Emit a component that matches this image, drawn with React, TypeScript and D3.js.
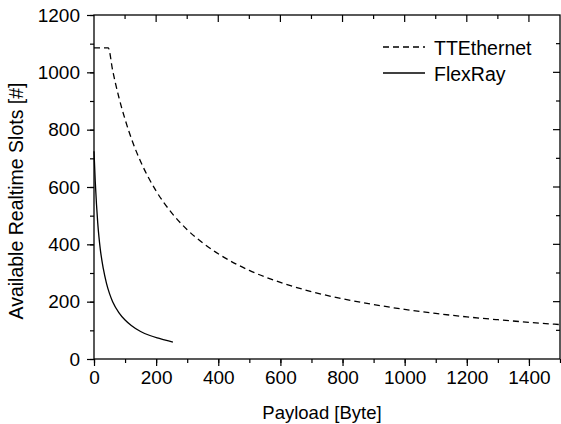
import { useEffect, useRef } from "react";
import * as d3 from "d3";

const WIDTH = 561;
const HEIGHT = 424;
const MARGIN = { top: 15, right: 1, bottom: 65, left: 94 };

// TTEthernet: flat up to the minimum payload, then falls
const ETH_PAYLOAD = [0, 46, 60, 80, 100, 125, 150, 200, 250, 300, 350, 400, 500, 600, 700, 800, 900, 1000, 1100, 1200, 1300, 1400, 1500];
const ETH_SLOTS = [1085, 1085, 1007, 913, 836, 755, 689, 586, 510, 451, 405, 367, 309, 267, 235, 210, 190, 173, 159, 147, 137, 128, 120];

const FR_PAYLOAD = [0, 4, 8, 12, 16, 20, 30, 40, 50, 60, 80, 100, 120, 150, 180, 210, 240, 254];
const FR_SLOTS = [725, 620, 540, 475, 425, 385, 315, 265, 228, 200, 162, 136, 117, 96, 82, 72, 63, 59];

const X_TICKS = [0, 200, 400, 600, 800, 1000, 1200, 1400];
const Y_TICKS = [0, 200, 400, 600, 800, 1000, 1200];

const SERIES = [
  { name: "TTEthernet", dash: "6,4", x: ETH_PAYLOAD, y: ETH_SLOTS },
  { name: "FlexRay", dash: null, x: FR_PAYLOAD, y: FR_SLOTS },
];

const FONT = "'Liberation Sans', Arial, sans-serif";

const App = () => {
  const ref = useRef(null);

  useEffect(() => {
    const svg = d3.select(ref.current);
    svg.selectAll("*").remove();

    const w = WIDTH - MARGIN.left - MARGIN.right;
    const h = HEIGHT - MARGIN.top - MARGIN.bottom;
    const x = d3.scaleLinear().domain([0, 1500]).range([0, w]);
    const y = d3.scaleLinear().domain([0, 1200]).range([h, 0]);

    const g = svg.append("g").attr("transform", `translate(${MARGIN.left},${MARGIN.top})`);

    const xMinor = d3.range(0, 1501, 100);
    const yMinor = d3.range(0, 1201, 100);

    // bottom + left: ticks outward; top + right: ticks inward
    const styleAxis = (sel) => {
      sel.select(".domain").remove();
      sel.selectAll("line").attr("stroke", "#000").attr("stroke-width", 1.2);
      sel.selectAll("text").attr("font-family", FONT).attr("font-size", 19).attr("fill", "#000");
    };

    g.append("g")
      .attr("transform", `translate(0,${h})`)
      .call(d3.axisBottom(x).tickValues(xMinor).tickSize(4).tickFormat(() => ""))
      .call(styleAxis);
    g.append("g")
      .attr("transform", `translate(0,${h})`)
      .call(d3.axisBottom(x).tickValues(X_TICKS).tickSize(7).tickPadding(5).tickFormat(d3.format("d")))
      .call(styleAxis);
    g.append("g")
      .selectAll("line")
      .data(xMinor.filter((v) => v > 0 && v < 1500))
      .join("line")
      .attr("x1", (d) => x(d))
      .attr("x2", (d) => x(d))
      .attr("y1", 0)
      .attr("y2", (d) => (d % 200 === 0 ? 7 : 4))
      .attr("stroke", "#000")
      .attr("stroke-width", 1.2);

    g.append("g")
      .call(d3.axisLeft(y).tickValues(yMinor).tickSize(4).tickFormat(() => ""))
      .call(styleAxis);
    g.append("g")
      .call(d3.axisLeft(y).tickValues(Y_TICKS).tickSize(7).tickPadding(7).tickFormat(d3.format("d")))
      .call(styleAxis);
    g.append("g")
      .selectAll("line")
      .data(yMinor.filter((v) => v > 0 && v < 1200))
      .join("line")
      .attr("x1", w)
      .attr("x2", (d) => w - (d % 200 === 0 ? 7 : 4))
      .attr("y1", (d) => y(d))
      .attr("y2", (d) => y(d))
      .attr("stroke", "#000")
      .attr("stroke-width", 1.2);

    g.append("rect")
      .attr("width", w)
      .attr("height", h)
      .attr("fill", "none")
      .attr("stroke", "#000")
      .attr("stroke-width", 1.3);

    const line = d3
      .line()
      .x((d) => x(d[0]))
      .y((d) => y(d[1]))
      .curve(d3.curveMonotoneX);

    SERIES.forEach((s) => {
      g.append("path")
        .datum(s.x.map((v, i) => [v, s.y[i]]))
        .attr("d", line)
        .attr("fill", "none")
        .attr("stroke", "#000")
        .attr("stroke-width", 1.3)
        .attr("stroke-dasharray", s.dash);
    });

    // legend
    const legend = g.append("g").attr("transform", `translate(${289},${32})`);
    SERIES.forEach((s, i) => {
      const row = legend.append("g").attr("transform", `translate(0,${i * 26})`);
      row.append("line")
        .attr("x1", 0)
        .attr("x2", 42)
        .attr("stroke", "#000")
        .attr("stroke-width", 1.3)
        .attr("stroke-dasharray", s.dash);
      row.append("text")
        .attr("x", 51)
        .attr("y", 8)
        .attr("font-family", FONT)
        .attr("font-size", 19.5)
        .text(s.name);
    });

    svg.append("text")
      .attr("x", 322)
      .attr("y", 419)
      .attr("text-anchor", "middle")
      .attr("font-family", FONT)
      .attr("font-size", 18.5)
      .text("Payload [Byte]");

    svg.append("text")
      .attr("transform", `translate(23,201) rotate(-90)`)
      .attr("text-anchor", "middle")
      .attr("font-family", FONT)
      .attr("font-size", 19.5)
      .text("Available Realtime Slots [#]");
  }, []);

  return (
    <svg
      ref={ref}
      width={WIDTH}
      height={HEIGHT}
      style={{ position: "absolute", left: 0, top: 0, background: "#fff" }}
    />
  );
};

export default App;
